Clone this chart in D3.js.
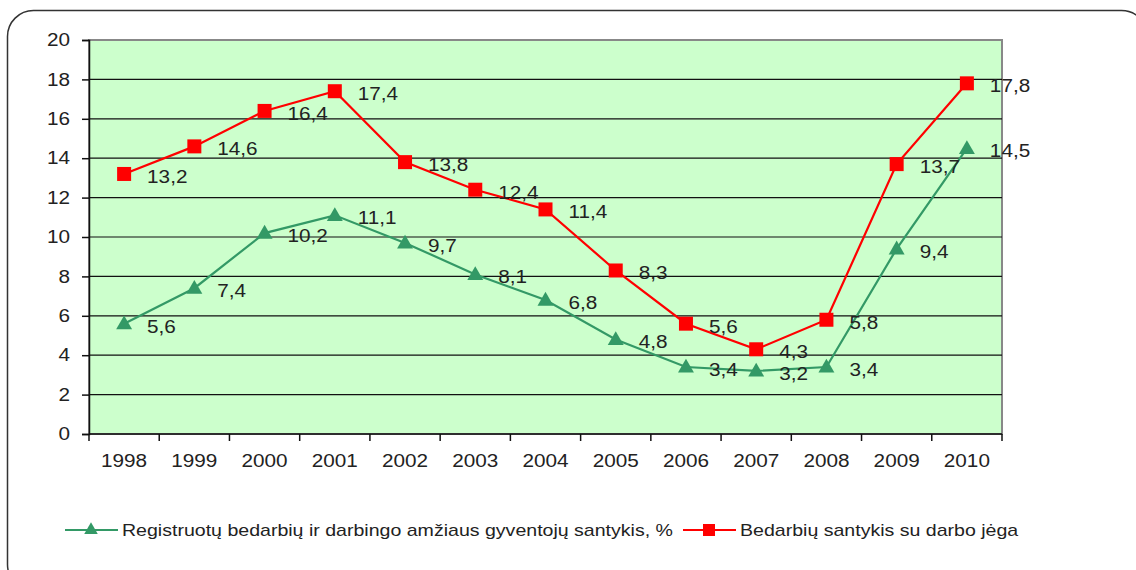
<!DOCTYPE html>
<html>
<head>
<meta charset="utf-8">
<script src="https://cdn.jsdelivr.net/npm/d3@7"></script>
<style>
  body { margin: 0; background: #fff; }
  svg text { font-family: "Liberation Sans", Arial, sans-serif; fill: #222; }
</style>
</head>
<body>
<svg id="chart" width="1136" height="570"></svg>
<script>
// data
var years = ['1998', '1999', '2000', '2001', '2002', '2003', '2004', '2005', '2006', '2007', '2008', '2009', '2010'];
var registered = [5.6, 7.4, 10.2, 11.1, 9.7, 8.1, 6.8, 4.8, 3.4, 3.2, 3.4, 9.4, 14.5];
var labourForce = [13.2, 14.6, 16.4, 17.4, 13.8, 12.4, 11.4, 8.3, 5.6, 4.3, 5.8, 13.7, 17.8];
var yTicks = [0, 2, 4, 6, 8, 10, 12, 14, 16, 18, 20];
var seriesNames = ['Registruotų bedarbių ir darbingo amžiaus gyventojų santykis, %', 'Bedarbių santykis su darbo jėga'];

var green = '#339966';
var red = '#ff0000';

var svg = d3.select('#chart');

// outer rounded frame
svg.append('rect')
    .attr('x', 7.5).attr('y', 10.5)
    .attr('width', 1140).attr('height', 580)
    .attr('rx', 26).attr('ry', 26)
    .attr('fill', 'none')
    .attr('stroke', '#333')
    .attr('stroke-width', 1.5);

var plotLeft = 89, plotRight = 1002, plotTop = 40, plotBottom = 434;

var x = d3.scaleBand()
    .domain(years)
    .range([plotLeft, plotRight]);

var y = d3.scaleLinear()
    .domain([0, 20])
    .range([plotBottom, plotTop]);

// plot background
svg.append('rect')
    .attr('x', plotLeft).attr('y', plotTop)
    .attr('width', plotRight - plotLeft).attr('height', plotBottom - plotTop)
    .attr('fill', '#ccffcc')
    .attr('stroke', '#888')
    .attr('stroke-width', 2);

// gridlines
svg.append('g')
    .selectAll('line')
    .data(yTicks.filter(function(d) { return d > 0 && d < 20; }))
    .enter()
    .append('line')
    .attr('x1', plotLeft).attr('x2', plotRight)
    .attr('y1', function(d) { return y(d); })
    .attr('y2', function(d) { return y(d); })
    .attr('stroke', '#111')
    .attr('stroke-width', 1.2);

// y axis
var yAxis = svg.append('g')
    .attr('transform', 'translate(' + plotLeft + ',0)')
    .call(d3.axisLeft(y).tickValues(yTicks).tickSize(7).tickPadding(12));
yAxis.selectAll('text').style('font-size', '18px').attr('fill', '#222').attr('font-family', null);
yAxis.attr('font-family', null);
yAxis.selectAll('line, path').attr('stroke', '#111').attr('stroke-width', 1.5);

// x axis: ticks on band boundaries
var xAxis = svg.append('g')
    .attr('transform', 'translate(0,' + plotBottom + ')');
xAxis.append('line')
    .attr('x1', plotLeft).attr('x2', plotRight)
    .attr('stroke', '#111').attr('stroke-width', 1.5);
xAxis.selectAll('.tk')
    .data(years.concat(['end']))
    .enter()
    .append('line')
    .attr('class', 'tk')
    .attr('x1', function(d, i) { return plotLeft + i * x.bandwidth(); })
    .attr('x2', function(d, i) { return plotLeft + i * x.bandwidth(); })
    .attr('y1', 0).attr('y2', 7)
    .attr('stroke', '#111').attr('stroke-width', 1.5);
xAxis.selectAll('text')
    .data(years)
    .enter()
    .append('text')
    .attr('x', function(d) { return x(d) + x.bandwidth() / 2; })
    .attr('y', 33)
    .attr('text-anchor', 'middle')
    .style('font-size', '18px')
    .text(function(d) { return d; });

function cx(i) { return x(years[i]) + x.bandwidth() / 2; }

var line = d3.line()
    .x(function(d, i) { return cx(i); })
    .y(function(d) { return y(d); });

var fmt = function(d) { return String(d).replace('.', ','); };

var tri = d3.symbol().type(d3.symbolTriangle).size(110);

function drawSeries(values, colour, marker) {
    var g = svg.append('g');
    g.append('path')
        .datum(values)
        .attr('d', line)
        .attr('fill', 'none')
        .attr('stroke', colour)
        .attr('stroke-width', 2.2);

    if (marker == 'square') {
        g.selectAll('rect')
            .data(values)
            .enter()
            .append('rect')
            .attr('x', function(d, i) { return cx(i) - 7; })
            .attr('y', function(d) { return y(d) - 7; })
            .attr('width', 14).attr('height', 14)
            .attr('fill', colour);
    } else {
        g.selectAll('path.mk')
            .data(values)
            .enter()
            .append('path')
            .attr('class', 'mk')
            .attr('d', tri)
            .attr('transform', function(d, i) { return 'translate(' + cx(i) + ',' + (y(d) + 1) + ')'; })
            .attr('fill', colour);
    }

    g.selectAll('text')
        .data(values)
        .enter()
        .append('text')
        .attr('x', function(d, i) { return cx(i) + 23; })
        .attr('y', function(d) { return y(d) + 9; })
        .style('font-size', '18px')
        .text(fmt);
}

drawSeries(registered, green, 'triangle');
drawSeries(labourForce, red, 'square');

// legend
var legend = svg.append('g').attr('transform', 'translate(0,530)');
var items = [
    { name: seriesNames[0], colour: green, marker: 'triangle', x: 65 },
    { name: seriesNames[1], colour: red, marker: 'square', x: 683 }
];
items.forEach(function(it) {
    legend.append('line')
        .attr('x1', it.x).attr('x2', it.x + 53)
        .attr('stroke', it.colour).attr('stroke-width', 2.2);
    if (it.marker == 'square') {
        legend.append('rect')
            .attr('x', it.x + 26 - 6).attr('y', -6)
            .attr('width', 12).attr('height', 12)
            .attr('fill', it.colour);
    } else {
        legend.append('path')
            .attr('d', d3.symbol().type(d3.symbolTriangle).size(80))
            .attr('transform', 'translate(' + (it.x + 26) + ',0)')
            .attr('fill', it.colour);
    }
    legend.append('text')
        .attr('x', it.x + 57)
        .attr('y', 6)
        .style('font-size', '17px')
        .text(it.name);
});

// the original text is drawn a bit wider than the font, stretch it
svg.selectAll('text').each(function() {
    var w = this.getComputedTextLength();
    d3.select(this)
        .attr('textLength', w * 1.15)
        .attr('lengthAdjust', 'spacingAndGlyphs');
});
</script>
</body>
</html>
